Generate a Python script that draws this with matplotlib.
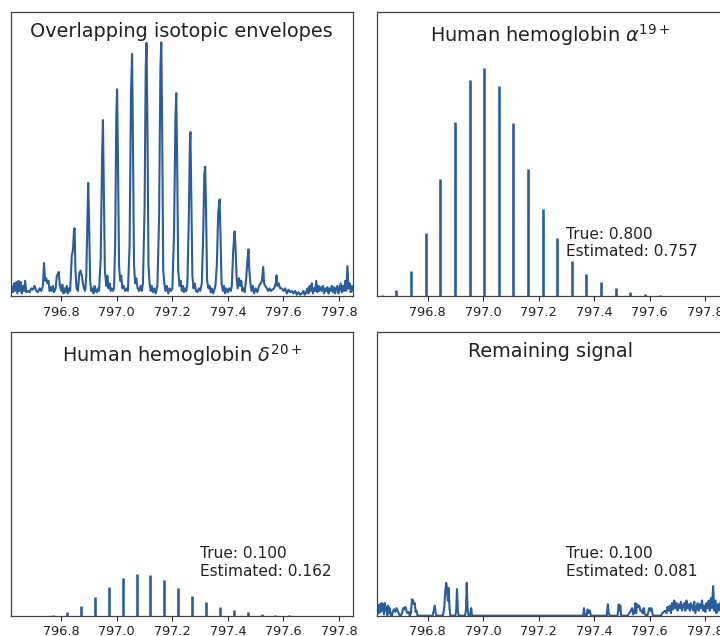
import matplotlib.pyplot as plt

# ── DATA ─────────────────────────────────────────────────────────────
# observed spectrum (m/z, intensity), intensity scaled to the tallest peak
obs_mz = [
    796.618, 796.622, 796.626, 796.630, 796.634, 796.638, 796.642, 796.646, 796.650, 796.654,
    796.658, 796.662, 796.666, 796.670, 796.674, 796.680, 796.686, 796.692, 796.698, 796.704,
    796.710, 796.716, 796.722, 796.728, 796.734, 796.738, 796.742, 796.746, 796.750, 796.754,
    796.758, 796.762, 796.766, 796.770, 796.774, 796.780, 796.784, 796.788, 796.791, 796.795,
    796.800, 796.804, 796.808, 796.812, 796.816, 796.820, 796.824, 796.828, 796.832, 796.838,
    796.842, 796.846, 796.848, 796.851, 796.855, 796.860, 796.865, 796.870, 796.874, 796.878,
    796.882, 796.886, 796.890, 796.894, 796.897, 796.900, 796.904, 796.908, 796.912, 796.916,
    796.920, 796.924, 796.928, 796.932, 796.936, 796.942, 796.947, 796.950, 796.953, 796.957,
    796.962, 796.966, 796.970, 796.974, 796.978, 796.982, 796.986, 796.990, 796.994, 796.998,
    797.001, 797.004, 797.008, 797.012, 797.016, 797.020, 797.025, 797.030, 797.036, 797.040,
    797.046, 797.051, 797.055, 797.058, 797.062, 797.066, 797.070, 797.075, 797.080, 797.086,
    797.090, 797.094, 797.100, 797.104, 797.107, 797.110, 797.114, 797.118, 797.122, 797.126,
    797.130, 797.135, 797.140, 797.146, 797.152, 797.157, 797.160, 797.163, 797.167, 797.171,
    797.175, 797.180, 797.185, 797.190, 797.195, 797.200, 797.206, 797.211, 797.214, 797.217,
    797.221, 797.226, 797.230, 797.234, 797.238, 797.242, 797.246, 797.250, 797.254, 797.259,
    797.263, 797.265, 797.268, 797.272, 797.276, 797.280, 797.285, 797.290, 797.295, 797.300,
    797.306, 797.311, 797.315, 797.318, 797.321, 797.325, 797.330, 797.334, 797.338, 797.342,
    797.346, 797.350, 797.355, 797.360, 797.365, 797.370, 797.373, 797.377, 797.382, 797.386,
    797.390, 797.395, 797.400, 797.405, 797.410, 797.414, 797.419, 797.424, 797.427, 797.431,
    797.435, 797.440, 797.444, 797.448, 797.452, 797.456, 797.460, 797.466, 797.470, 797.474,
    797.477, 797.481, 797.485, 797.490, 797.494, 797.500, 797.506, 797.512, 797.518, 797.522,
    797.527, 797.530, 797.534, 797.540, 797.545, 797.550, 797.555, 797.560, 797.566, 797.572,
    797.575, 797.578, 797.582, 797.588, 797.594, 797.600, 797.606, 797.612, 797.618, 797.624,
    797.630, 797.636, 797.642, 797.648, 797.654, 797.660, 797.666, 797.672, 797.676, 797.680,
    797.686, 797.690, 797.694, 797.698, 797.702, 797.706, 797.710, 797.714, 797.718, 797.722,
    797.726, 797.730, 797.734, 797.738, 797.742, 797.746, 797.750, 797.754, 797.758, 797.762,
    797.766, 797.770, 797.774, 797.778, 797.782, 797.786, 797.790, 797.794, 797.798, 797.802,
    797.806, 797.810, 797.814, 797.818, 797.822, 797.826, 797.830, 797.834, 797.838, 797.842,
    797.846, 797.850, 797.854,
]
obs_int = [
    0.020, 0.035, 0.015, 0.050, 0.020, 0.055, 0.010, 0.060, 0.020, 0.055,
    0.010, 0.040, 0.020, 0.060, 0.015, 0.020, 0.015, 0.030, 0.025, 0.040,
    0.020, 0.015, 0.030, 0.020, 0.040, 0.130, 0.060, 0.070, 0.050, 0.060,
    0.020, 0.035, 0.020, 0.040, 0.015, 0.030, 0.080, 0.085, 0.095, 0.040,
    0.020, 0.045, 0.010, 0.030, 0.015, 0.040, 0.010, 0.030, 0.020, 0.160,
    0.180, 0.260, 0.267, 0.100, 0.030, 0.020, 0.090, 0.100, 0.080, 0.050,
    0.030, 0.020, 0.080, 0.300, 0.446, 0.300, 0.060, 0.020, 0.030, 0.010,
    0.040, 0.020, 0.015, 0.030, 0.020, 0.150, 0.550, 0.694, 0.450, 0.100,
    0.040, 0.080, 0.030, 0.050, 0.020, 0.030, 0.020, 0.030, 0.200, 0.700,
    0.815, 0.550, 0.120, 0.060, 0.080, 0.030, 0.040, 0.020, 0.030, 0.020,
    0.200, 0.800, 0.955, 0.600, 0.120, 0.050, 0.070, 0.030, 0.020, 0.040,
    0.020, 0.050, 0.350, 0.900, 0.998, 0.700, 0.120, 0.050, 0.020, 0.040,
    0.015, 0.030, 0.010, 0.040, 0.300, 0.900, 1.000, 0.700, 0.100, 0.050,
    0.020, 0.040, 0.010, 0.030, 0.020, 0.030, 0.250, 0.700, 0.800, 0.550,
    0.100, 0.040, 0.060, 0.020, 0.040, 0.015, 0.030, 0.020, 0.050, 0.300,
    0.600, 0.647, 0.400, 0.080, 0.030, 0.050, 0.020, 0.015, 0.030, 0.020,
    0.050, 0.250, 0.480, 0.510, 0.350, 0.060, 0.030, 0.040, 0.015, 0.030,
    0.010, 0.020, 0.040, 0.120, 0.330, 0.381, 0.250, 0.050, 0.020, 0.040,
    0.010, 0.030, 0.015, 0.030, 0.020, 0.040, 0.180, 0.255, 0.200, 0.080,
    0.030, 0.070, 0.040, 0.060, 0.020, 0.030, 0.015, 0.070, 0.140, 0.184,
    0.100, 0.050, 0.020, 0.040, 0.010, 0.030, 0.015, 0.040, 0.050, 0.060,
    0.115, 0.050, 0.040, 0.030, 0.020, 0.030, 0.020, 0.025, 0.030, 0.050,
    0.081, 0.040, 0.050, 0.030, 0.030, 0.020, 0.030, 0.010, 0.025, 0.015,
    0.020, 0.010, 0.020, 0.005, 0.015, 0.005, 0.010, 0.020, 0.005, 0.010,
    0.030, 0.010, 0.040, 0.020, 0.050, 0.010, 0.030, 0.020, 0.060, 0.015,
    0.040, 0.020, 0.035, 0.020, 0.040, 0.010, 0.030, 0.020, 0.035, 0.010,
    0.030, 0.020, 0.040, 0.015, 0.035, 0.010, 0.030, 0.040, 0.010, 0.030,
    0.050, 0.015, 0.040, 0.020, 0.060, 0.020, 0.118, 0.030, 0.050, 0.015,
    0.040, 0.020, 0.030,
]

# theoretical isotopic envelopes (stick spectra)
alpha_mz = [796.635, 796.688, 796.740, 796.793, 796.846, 796.898, 796.951, 797.004,
            797.056, 797.109, 797.161, 797.214, 797.267, 797.319, 797.372, 797.425,
            797.477, 797.530, 797.582, 797.635]
alpha_int = [0.002, 0.025, 0.099, 0.249, 0.461, 0.688, 0.851, 0.898, 0.830, 0.681,
             0.501, 0.343, 0.228, 0.139, 0.088, 0.054, 0.030, 0.015, 0.007, 0.002]

delta_mz = [796.771, 796.821, 796.871, 796.921, 796.971, 797.021, 797.071, 797.121,
            797.171, 797.221, 797.271, 797.321, 797.371, 797.421, 797.471, 797.521,
            797.571, 797.621]
delta_int = [0.002, 0.013, 0.038, 0.073, 0.113, 0.149, 0.165, 0.159, 0.140, 0.108,
             0.077, 0.053, 0.035, 0.021, 0.013, 0.008, 0.004, 0.002]

# residual after fitting both envelopes
rem_mz = [
    796.618, 796.622, 796.625, 796.628, 796.631, 796.634, 796.637, 796.640, 796.643, 796.646,
    796.649, 796.652, 796.655, 796.658, 796.661, 796.664, 796.668, 796.672, 796.676, 796.680,
    796.684, 796.688, 796.692, 796.696, 796.700, 796.704, 796.708, 796.712, 796.716, 796.720,
    796.724, 796.728, 796.732, 796.736, 796.740, 796.744, 796.748, 796.751, 796.754, 796.757,
    796.760, 796.764, 796.818, 796.822, 796.826, 796.829, 796.832, 796.855, 796.860, 796.864,
    796.867, 796.870, 796.873, 796.876, 796.879, 796.882, 796.900, 796.903, 796.906, 796.909,
    796.912, 796.935, 796.938, 796.941, 796.944, 796.948, 796.954, 796.957, 796.960, 797.360,
    797.363, 797.366, 797.372, 797.376, 797.380, 797.384, 797.388, 797.445, 797.449, 797.452,
    797.456, 797.484, 797.488, 797.491, 797.494, 797.497, 797.520, 797.526, 797.532, 797.536,
    797.540, 797.544, 797.548, 797.551, 797.554, 797.558, 797.562, 797.566, 797.570, 797.574,
    797.578, 797.582, 797.590, 797.594, 797.598, 797.602, 797.606, 797.610, 797.614, 797.640,
    797.645, 797.650, 797.655, 797.660, 797.664, 797.668, 797.672, 797.676, 797.680, 797.684,
    797.688, 797.692, 797.696, 797.700, 797.704, 797.708, 797.712, 797.716, 797.720, 797.724,
    797.728, 797.732, 797.736, 797.740, 797.744, 797.748, 797.752, 797.756, 797.760, 797.764,
    797.768, 797.772, 797.776, 797.780, 797.784, 797.788, 797.792, 797.796, 797.800, 797.804,
    797.808, 797.812, 797.816, 797.820, 797.824, 797.828, 797.832, 797.836, 797.840, 797.844,
    797.848, 797.852, 797.856,
]
rem_int = [
    0.020, 0.040, 0.010, 0.045, 0.015, 0.050, 0.020, 0.045, 0.005, 0.050,
    0.020, 0.035, 0.000, 0.040, 0.010, 0.030, 0.000, 0.000, 0.020, 0.025,
    0.015, 0.030, 0.020, 0.010, 0.000, 0.000, 0.010, 0.030, 0.025, 0.035,
    0.020, 0.010, 0.015, 0.000, 0.010, 0.065, 0.060, 0.045, 0.050, 0.015,
    0.020, 0.000, 0.000, 0.020, 0.040, 0.010, 0.000, 0.000, 0.030, 0.100,
    0.130, 0.110, 0.060, 0.110, 0.030, 0.000, 0.000, 0.020, 0.105, 0.020,
    0.000, 0.000, 0.020, 0.130, 0.030, 0.000, 0.000, 0.030, 0.000, 0.000,
    0.030, 0.000, 0.000, 0.025, 0.010, 0.020, 0.000, 0.000, 0.045, 0.010,
    0.000, 0.000, 0.045, 0.020, 0.040, 0.000, 0.000, 0.010, 0.020, 0.030,
    0.005, 0.010, 0.050, 0.010, 0.045, 0.035, 0.040, 0.020, 0.020, 0.010,
    0.030, 0.005, 0.000, 0.010, 0.030, 0.020, 0.030, 0.005, 0.000, 0.000,
    0.010, 0.015, 0.020, 0.010, 0.035, 0.020, 0.040, 0.010, 0.050, 0.025,
    0.060, 0.030, 0.050, 0.020, 0.045, 0.030, 0.055, 0.020, 0.040, 0.050,
    0.020, 0.060, 0.030, 0.045, 0.020, 0.050, 0.035, 0.020, 0.055, 0.010,
    0.030, 0.050, 0.020, 0.045, 0.030, 0.060, 0.020, 0.040, 0.015, 0.050,
    0.030, 0.060, 0.020, 0.070, 0.030, 0.117, 0.020, 0.060, 0.010, 0.045,
    0.020, 0.050, 0.030,
]

titles = ["Overlapping isotopic envelopes",
          r"Human hemoglobin $\alpha^{19+}$",
          r"Human hemoglobin $\delta^{20+}$",
          "Remaining signal"]
true_frac = [0.800, 0.100, 0.100]
est_frac  = [0.757, 0.162, 0.081]
xticks = [796.8, 797.0, 797.2, 797.4, 797.6, 797.8]

# ── STYLE ────────────────────────────────────────────────────────────
BLUE = '#2a5d9b'
W, H = 720, 636
MZ_LO = 796.618
PX_PER_DA = 277.8

fig = plt.figure(figsize=(W / 100, H / 100), dpi=100)

def make_ax(left, top, width, height):
    ax = fig.add_axes([left / W, 1 - (top + height) / H, width / W, height / H])
    ax.set_xlim(MZ_LO, MZ_LO + width / PX_PER_DA)
    ax.set_ylim(0, 1.12)
    ax.set_yticks([])
    ax.set_xticks(xticks)
    ax.set_xticklabels([f"{t:.1f}" for t in xticks])
    ax.tick_params(axis='x', labelsize=9.3, colors='#222222')
    for s in ax.spines.values():
        s.set_color('#444444')
        s.set_linewidth(0.9)
    return ax

ax1 = make_ax(10.7, 12, 342.3, 284)
ax2 = make_ax(377, 12, 346, 284)
ax3 = make_ax(10.7, 332.3, 342.3, 283.4)
ax4 = make_ax(377, 332.3, 346, 283.4)
axes = [ax1, ax2, ax3, ax4]

ax1.plot(obs_mz, obs_int, color=BLUE, lw=1.5)
ax2.vlines(alpha_mz, 0, alpha_int, color=BLUE, lw=1.9)
ax3.vlines(delta_mz, 0, delta_int, color=BLUE, lw=1.9)
ax4.plot(rem_mz, rem_int, color=BLUE, lw=1.5)

for ax, t in zip(axes, titles):
    ax.text(0.5, 0.966, t, transform=ax.transAxes, ha='center', va='top',
            fontsize=13.9, color='#222222')

for ax, tv, ev in zip([ax2, ax3, ax4], true_frac, est_frac):
    ax.text(797.3, 0.13, f"True: {tv:.3f}\nEstimated: {ev:.3f}",
            transform=ax.get_xaxis_transform(), ha='left', va='bottom',
            fontsize=11.1, color='#222222')

fig.savefig("out.png", dpi=100)
